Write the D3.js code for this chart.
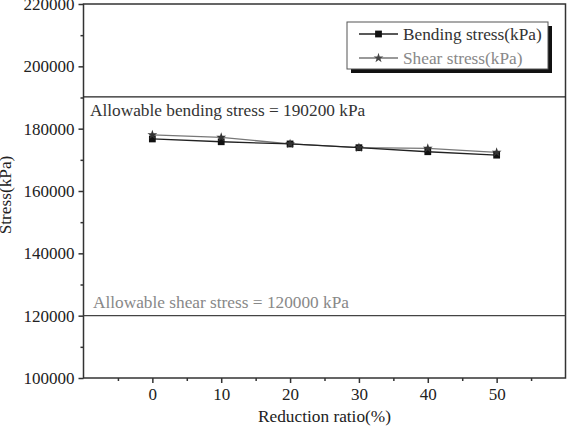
<!DOCTYPE html>
<html>
<head>
<meta charset="utf-8">
<script src="https://cdn.jsdelivr.net/npm/d3@7"></script>
<style>
  body { margin: 0; background: #fff; }
  svg { display: block; font-family: "Liberation Serif", "Times New Roman", serif; }
</style>
</head>
<body>
<div id="chart"></div>
<script>
// reduction ratio (%) on x, stress (kPa) on y
var ratios = [0, 10, 20, 30, 40, 50];
var bendingStress = [176700, 175800, 175100, 173900, 172600, 171500];
var shearStress = [178000, 177200, 175100, 173900, 173700, 172400];
var yTicks = [100000, 120000, 140000, 160000, 180000, 200000, 220000];
var xTicks = [0, 10, 20, 30, 40, 50];
var allowBending = 190200;
var allowShear = 120000;

var W = 569, H = 436;
// note: "top" is taken by window.top, so plot edges get a prefix
var plotL = 83.5, plotR = 565.5, plotT = 4, plotB = 378;

var svg = d3.select('#chart').append('svg')
    .attr('width', W)
    .attr('height', H);

var x = d3.scaleLinear().domain([-10, 60]).range([plotL, plotR]);
var y = d3.scaleLinear().domain([100000, 220000]).range([plotB, plotT]);

var axisColor = '#333';

// frame
svg.append('rect')
    .attr('x', plotL).attr('y', plotT)
    .attr('width', plotR - plotL).attr('height', plotB - plotT)
    .attr('fill', 'none')
    .attr('stroke', axisColor)
    .attr('stroke-width', 1.5);

// allowable lines
svg.append('line')
    .attr('x1', plotL).attr('x2', plotR)
    .attr('y1', y(allowBending)).attr('y2', y(allowBending))
    .attr('stroke', '#222').attr('stroke-width', 1.2);
svg.append('line')
    .attr('x1', plotL).attr('x2', plotR)
    .attr('y1', y(allowShear)).attr('y2', y(allowShear))
    .attr('stroke', '#444').attr('stroke-width', 1.2);

svg.append('text')
    .attr('x', 90).attr('y', y(allowBending) + 19)
    .attr('font-size', 17.3).attr('fill', '#333')
    .text('Allowable bending stress = 190200 kPa');
svg.append('text')
    .attr('x', 93).attr('y', y(allowShear) - 8)
    .attr('font-size', 17.3).attr('fill', '#888')
    .text('Allowable shear stress = 120000 kPa');

// axes
var yAxis = d3.axisLeft(y).tickValues(yTicks).tickSize(5).tickPadding(4)
    .tickFormat(d3.format('d'));
var yMinor = d3.axisLeft(y).tickValues(d3.range(110000, 220000, 20000)).tickSize(3).tickFormat('');
var xAxis = d3.axisBottom(x).tickValues(xTicks).tickSize(5).tickPadding(5);
var xMinor = d3.axisBottom(x).tickValues(d3.range(-5, 60, 10)).tickSize(3).tickFormat('');

function styleAxis(g) {
    g.select('.domain').remove();
    g.selectAll('line').attr('stroke', axisColor).attr('stroke-width', 1.5);
    g.selectAll('text').attr('font-size', 17).attr('fill', '#222')
        .attr('font-family', '"Liberation Serif", "Times New Roman", serif');
}

svg.append('g').attr('transform', 'translate(' + plotL + ',0)').call(yAxis).call(styleAxis);
svg.append('g').attr('transform', 'translate(' + plotL + ',0)').call(yMinor).call(styleAxis);
svg.append('g').attr('transform', 'translate(0,' + plotB + ')').call(xAxis).call(styleAxis);
svg.append('g').attr('transform', 'translate(0,' + plotB + ')').call(xMinor).call(styleAxis);

svg.append('text')
    .attr('x', (plotL + plotR) / 2).attr('y', 422)
    .attr('text-anchor', 'middle')
    .attr('font-size', 17.3).attr('fill', '#222')
    .text('Reduction ratio(%)');

svg.append('text')
    .attr('transform', 'translate(11,' + 195 + ') rotate(-90)')
    .attr('text-anchor', 'middle')
    .attr('font-size', 17.3).attr('fill', '#222')
    .text('Stress(kPa)');

// series
var line = d3.line()
    .x(function(d, i) { return x(ratios[i]); })
    .y(function(d) { return y(d); });

svg.append('path')
    .datum(shearStress)
    .attr('d', line)
    .attr('fill', 'none')
    .attr('stroke', '#777')
    .attr('stroke-width', 1.3);
svg.append('path')
    .datum(bendingStress)
    .attr('d', line)
    .attr('fill', 'none')
    .attr('stroke', '#222')
    .attr('stroke-width', 1.3);

var star = d3.symbol().type(d3.symbolStar).size(30);
var square = d3.symbol().type(d3.symbolSquare).size(46);

svg.append('g').selectAll('path')
    .data(bendingStress)
    .join('path')
    .attr('transform', function(d, i) { return 'translate(' + x(ratios[i]) + ',' + y(d) + ')'; })
    .attr('d', square)
    .attr('fill', '#111');
svg.append('g').selectAll('path')
    .data(shearStress)
    .join('path')
    .attr('transform', function(d, i) { return 'translate(' + x(ratios[i]) + ',' + y(d) + ')'; })
    .attr('d', star)
    .attr('fill', '#333');

// legend
var lg = svg.append('g');
lg.append('rect')
    .attr('x', 351).attr('y', 26).attr('width', 201).attr('height', 47)
    .attr('fill', '#111');
lg.append('rect')
    .attr('x', 347).attr('y', 22).attr('width', 201).attr('height', 47)
    .attr('fill', '#fff').attr('stroke', '#555').attr('stroke-width', 1);

var legendItems = [
    { name: 'Bending stress(kPa)', color: '#222', text: '#333', sym: square, fill: '#111', y: 34 },
    { name: 'Shear stress(kPa)', color: '#777', text: '#888', sym: star, fill: '#444', y: 58 }
];
legendItems.forEach(function(item) {
    lg.append('line')
        .attr('x1', 359).attr('x2', 398)
        .attr('y1', item.y).attr('y2', item.y)
        .attr('stroke', item.color).attr('stroke-width', 1.3);
    lg.append('path')
        .attr('transform', 'translate(378.5,' + item.y + ')')
        .attr('d', item.sym)
        .attr('fill', item.fill);
    lg.append('text')
        .attr('x', 403).attr('y', item.y + 5.5)
        .attr('font-size', 17.3).attr('fill', item.text)
        .text(item.name);
});
</script>
</body>
</html>
